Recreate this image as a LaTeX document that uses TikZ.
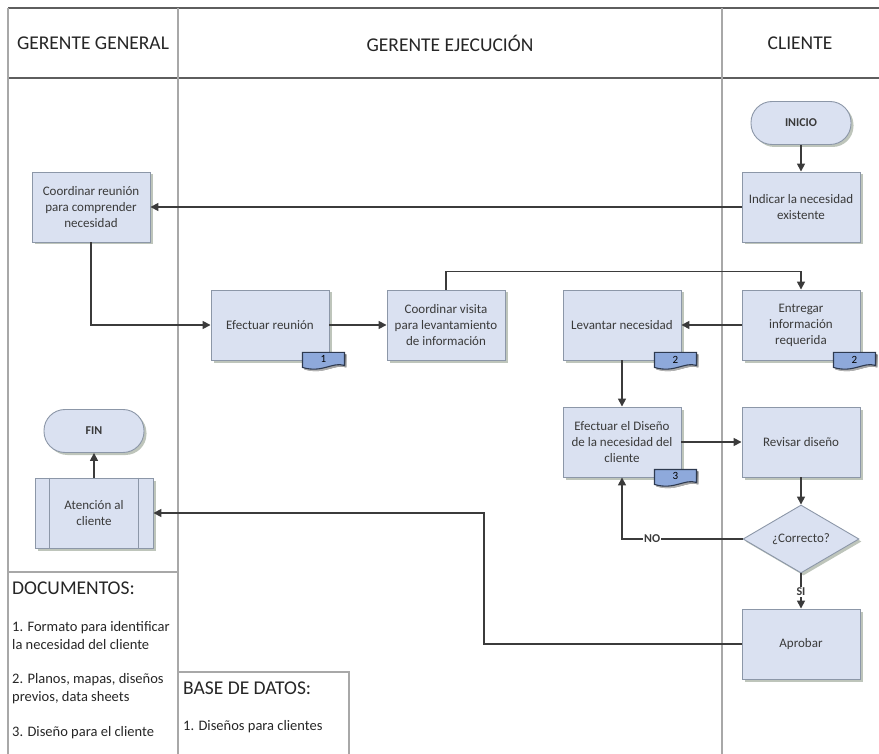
\documentclass[tikz,border=0pt]{standalone}
\usepackage{fontspec}
\setmainfont{Carlito}
\usetikzlibrary{shapes.geometric,arrows.meta,shadows}

\definecolor{boxfill}{HTML}{DAE1F1}
\definecolor{boxline}{HTML}{8C97A8}
\definecolor{docfill}{HTML}{8EA9DB}
\definecolor{docline}{HTML}{2E3A50}
\definecolor{wire}{HTML}{3B3B3B}
\definecolor{lanegray}{HTML}{A8A8A8}
\definecolor{framegray}{HTML}{5E5E5E}
\definecolor{txt}{HTML}{3A3A3A}
\definecolor{shade}{HTML}{A2AC9E}

\newcommand{\fsz}[2]{\fontsize{#1pt}{#2pt}\selectfont}

% document symbol hanging below the lower right corner of a process box
\newcommand{\docsymbol}[2]{%
  \begin{scope}[shift={([shift={(-27,-8)}]#1.south east)}]
    \fill[shade, opacity=0.7, shift={(2,2)}] (0,0) -- (42,0) -- (42,13)
      .. controls (30,9) and (20,21) .. (0,15) -- cycle;
    \draw[docline, fill=docfill, line width=1.1pt] (0,0) -- (42,0) -- (42,13)
      .. controls (30,9) and (20,21) .. (0,15) -- cycle;
    \node[font=\fsz{11}{12}, text=black, inner sep=0] at (21,7) {#2};
  \end{scope}}

\tikzset{
  boxshadow/.style={drop shadow={shadow xshift=2.5pt, shadow yshift=-2.5pt, fill=shade, opacity=0.7}},
  proc/.style={rectangle, draw=boxline, line width=0.9pt, fill=boxfill,
    minimum width=118pt, minimum height=70pt, align=center, inner sep=2pt,
    font=\fsz{13}{16}, text=txt, boxshadow},
  term/.style={rectangle, rounded corners=21pt, draw=boxline, line width=0.9pt,
    fill=boxfill, minimum width=100pt, minimum height=43pt,
    font=\bfseries\fsz{12}{14}, text=txt, boxshadow},
  decision/.style={diamond, aspect=1.7, draw=boxline, line width=0.9pt,
    fill=boxfill, minimum width=116pt, minimum height=68pt, inner sep=0pt,
    font=\fsz{13}{16}, text=txt, boxshadow},
  flow/.style={draw=wire, line width=1.6pt, -{Triangle[length=8pt,width=8pt]}},
  flowlabel/.style={fill=white, inner sep=1pt, font=\bfseries\fsz{12}{14}, text=wire},
  laneline/.style={draw=lanegray, line width=1.3pt},
  frameline/.style={draw=framegray, line width=1.3pt},
  header/.style={font=\fsz{19.5}{22}, text=black!85},
  notetext/.style={anchor=west, inner sep=0pt, align=left, text=black!85}
}

\begin{document}
\begin{tikzpicture}[x=1pt, y=-1pt]
  \useasboundingbox (0,0) rectangle (879,754);

  % swimlane frame
  \draw[frameline] (8,8) -- (879,8);
  \draw[frameline] (8,78) -- (879,78);
  \draw[laneline] (8,8) -- (8,754);
  \draw[laneline] (178,8) -- (178,754);
  \draw[laneline] (722,8) -- (722,754);
  \draw[laneline] (8,572) -- (178,572);
  \draw[laneline] (178,672) -- (349,672) -- (349,754);

  % lane headers
  \node[header] (hgg) at (93,43) {GERENTE GENERAL};
  \node[header] (hge) at (450,43) {GERENTE EJECUCIÓN};
  \node[header] (hcl) at (800,43) {CLIENTE};

  % flow nodes
  \node[term] (inicio) at (801,123) {INICIO};
  \node[proc] (indicar) at (801,207) {Indicar la necesidad\\existente};
  \node[proc] (coordr) at (91,207) {Coordinar reunión\\para comprender\\necesidad};
  \node[proc] (efr) at (270,325) {Efectuar reunión};
  \node[proc] (cvis) at (446,325) {Coordinar visita\\para levantamiento\\de información};
  \node[proc] (lev) at (622,325) {Levantar necesidad};
  \node[proc] (entr) at (801,325) {Entregar\\información\\requerida};
  \node[proc] (efd) at (622,442) {Efectuar el Diseño\\de la necesidad del\\cliente};
  \node[proc] (rev) at (801,442) {Revisar diseño};
  \node[decision] (corr) at (801,539) {¿Correcto?};
  \node[proc] (apr) at (801,644) {Aprobar};
  \node[term] (fin) at (94,431) {FIN};
  \node[proc] (aten) at (94,513) {Atención al\\cliente};
  \draw[boxline, line width=0.9pt] ([xshift=15pt]aten.north west) -- ([xshift=15pt]aten.south west);
  \draw[boxline, line width=0.9pt] ([xshift=-15pt]aten.north east) -- ([xshift=-15pt]aten.south east);

  % document references
  \docsymbol{efr}{1}
  \docsymbol{lev}{2}
  \docsymbol{entr}{2}
  \docsymbol{efd}{3}

  % connectors
  \coordinate (bend) at (484,513);
  \draw[flow] (inicio) -- (indicar);
  \draw[flow] (indicar) -- (coordr);
  \draw[flow] (coordr.south) |- (efr);
  \draw[flow] (efr) -- (cvis);
  \draw[flow] (cvis.north) -- ++(0,-18) -| (entr.north);
  \draw[flow] (entr) -- (lev);
  \draw[flow] (lev) -- (efd);
  \draw[flow] (efd) -- (rev);
  \draw[flow] (rev) -- (corr);
  \draw[flow] (corr.west) -| node[flowlabel, pos=0.375] {NO} (efd.south);
  \draw[flow] (corr.south) -- node[flowlabel, pos=0.53] {SI} (apr.north);
  \draw[flow] (apr.west) -| (bend) -- (aten.east);
  \draw[flow] (aten) -- (fin);

  % notes
  \node[notetext, font=\fsz{19.5}{22}] (docs) at (12,588) {DOCUMENTOS:};
  \node[notetext, font=\fsz{14.5}{18}] (doc1) at (12,636) {1. Formato para identificar\\la necesidad del cliente};
  \node[notetext, font=\fsz{14.5}{18}] (doc2) at (12,689) {2. Planos, mapas, diseños\\previos, data sheets};
  \node[notetext, font=\fsz{14.5}{18}] (doc3) at (12,733) {3. Diseño para el cliente};
  \node[notetext, font=\fsz{19.5}{22}] (bd) at (183,688) {BASE DE DATOS:};
  \node[notetext, font=\fsz{14.5}{18}] (bd1) at (183,727) {1. Diseños para clientes};
\end{tikzpicture}
\end{document}
